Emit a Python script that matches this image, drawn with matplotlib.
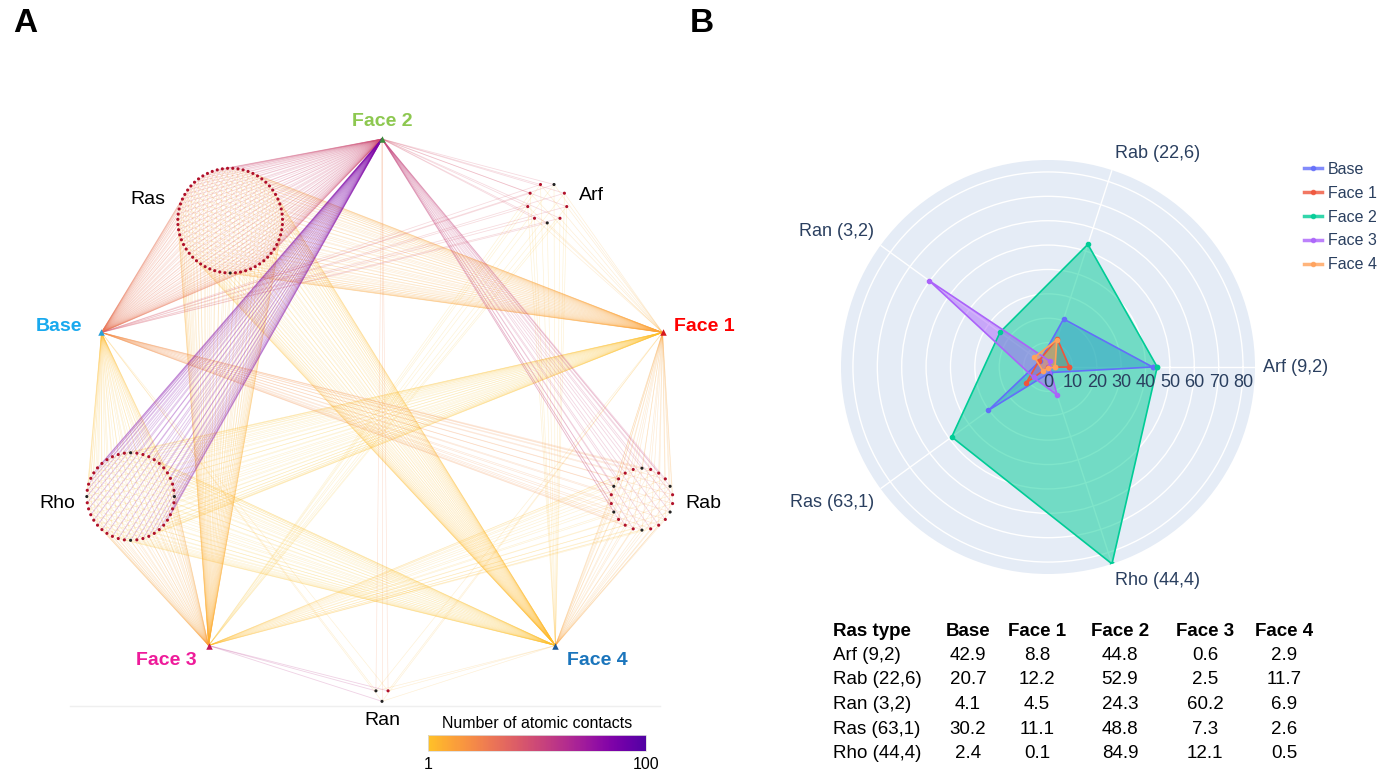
import numpy as np
import matplotlib
matplotlib.use("Agg")
import matplotlib.pyplot as plt
from matplotlib.collections import LineCollection
from matplotlib.colors import LinearSegmentedColormap, Normalize
from matplotlib.cm import ScalarMappable
from matplotlib.lines import Line2D

plt.rcParams['font.family'] = ['Liberation Sans', 'DejaVu Sans']

# data
families = ["Arf", "Rab", "Ran", "Ras", "Rho"]
members = [9, 22, 3, 63, 44]
special = [2, 6, 2, 1, 4]
faces = ["Base", "Face 1", "Face 2", "Face 3", "Face 4"]

base = [42.9, 20.7, 4.1, 30.2, 2.4]
face1 = [8.8, 12.2, 4.5, 11.1, 0.1]
face2 = [44.8, 52.9, 24.3, 48.8, 84.9]
face3 = [0.6, 2.5, 60.2, 7.3, 12.1]
face4 = [2.9, 11.7, 6.9, 2.6, 0.5]
series = [base, face1, face2, face3, face4]

categories = [f"{f} ({n},{k})" for f, n, k in zip(families, members, special)]

# styles
face_text_col = ['#19A9EE', '#FF0000', '#8DC850', '#EE1B9A', '#1B75BC']
face_mark_col = ['#2A9FD8', '#D7191C', '#3C8C3C', '#C2185B', '#1F5A96']
trace_col = ['#636EFA', '#EF553B', '#00CC96', '#AB63FA', '#FFA15A']
ink = '#2a3f5f'

W, H = 1390, 773
fig = plt.figure(figsize=(W / 100, H / 100), dpi=100)

# ---------------- panel A: network ----------------
ax = fig.add_axes([0, 0, 760 / W, 1])
ax.set_xlim(0, 760)
ax.set_ylim(H, 0)
ax.axis('off')

cmap = LinearSegmentedColormap.from_list(
    'contacts', plt.cm.plasma_r(np.linspace(0.13, 0.86, 64)))
norm = Normalize(1, 100)

cx, cy, rx, ry = 382, 419, 295, 280
ring = ["Face 2", "Arf", "Face 1", "Rab", "Face 4",
        "Ran", "Face 3", "Rho", "Base", "Ras"]
ang = {name: np.deg2rad(90 - 36 * i) for i, name in enumerate(ring)}


def ring_xy(name, shrink=0.0):
    a = ang[name]
    return cx + rx * (1 - shrink) * np.cos(a), cy - ry * (1 - shrink) * np.sin(a)


face_xy = {f: ring_xy(f) for f in faces}

segs, vals = [], []
clusters = []
for fi, (fam, n, k) in enumerate(zip(families, members, special)):
    rc = 6.6 * np.sqrt(n) if n > 3 else 7
    ccx, ccy = ring_xy(fam, 0.7 * rc / rx)
    phi = -np.pi / 2 + 2 * np.pi * np.arange(n) / n
    pts = np.column_stack([ccx + rc * np.cos(phi), ccy - rc * np.sin(phi)])
    black = np.round(np.arange(k) * n / k).astype(int)
    clusters.append((fam, ccx, ccy, rc, pts, black))
    for face, s in zip(faces, series):
        v = s[fi]
        for p in pts:
            segs.append([p, face_xy[face]])
            vals.append(v)

order = np.argsort(vals)
segs = [segs[i] for i in order]
vals = np.array(vals)[order]
lc = LineCollection(segs, colors=cmap(norm(vals)),
                    linewidths=0.4 + vals / 100 * 0.35, alpha=0.22, zorder=1)
ax.add_collection(lc)

ax.plot([70, 660], [706, 706], color='#efefef', lw=1, zorder=0)

for fam, ccx, ccy, rc, pts, black in clusters:
    cols = np.array(['#B0102A'] * len(pts), dtype=object)
    cols[black] = '#222222'
    ax.scatter(pts[:, 0], pts[:, 1], s=5, c=list(cols), lw=0, zorder=3)
    a = ang[fam]
    c = np.cos(a)
    if c > 0.3:
        ax.text(ccx + rc + 12, ccy - 0.5 * rc * np.sin(a), fam, fontsize=14,
                ha='left', va='center')
    elif c < -0.3:
        ax.text(ccx - rc - 12, ccy - 0.5 * rc * np.sin(a), fam, fontsize=14,
                ha='right', va='center')
    else:
        ax.text(ccx, ccy + rc + 19, fam, fontsize=14, ha='center', va='center')

for face, tc, mc in zip(faces, face_text_col, face_mark_col):
    x, y = face_xy[face]
    a = ang[face]
    ax.scatter([x], [y], marker='^', s=22, color=mc, lw=0, zorder=4)
    dx = 0 if abs(np.cos(a)) < 0.1 else 42 * np.sign(np.cos(a))
    dy = -18 * np.sin(a)
    ax.text(x + dx, y + dy, face, fontsize=14, fontweight='bold', color=tc,
            ha='center', va='center')

# colorbar
cax = fig.add_axes([428 / W, 1 - 751 / H, 218 / W, 16 / H])
cb = fig.colorbar(ScalarMappable(norm, cmap), cax=cax,
                  orientation='horizontal', ticks=[1, 100])
cb.outline.set_linewidth(0.6)
cb.outline.set_edgecolor('#dddddd')
cax.tick_params(length=0, labelsize=11.5, pad=4)
cax.set_title('Number of atomic contacts', fontsize=11.5, pad=5)

# ---------------- panel B: radar ----------------
pr = 207
pcx, pcy = 1048, 367
pax = fig.add_axes([(pcx - pr) / W, 1 - (pcy + pr) / H, 2 * pr / W, 2 * pr / H],
                   projection='polar')
theta = np.deg2rad(np.arange(len(families)) * 72)
rmax = 84.9
pax.set_facecolor('#E5ECF6')
pax.spines['polar'].set_visible(False)
pax.set_ylim(0, rmax)
pax.set_xticks(theta)
pax.set_xticklabels([])
pax.set_yticks(np.arange(10, 81, 10))
pax.set_yticklabels([])
pax.grid(color='white', lw=1)
pax.set_axisbelow(True)

for name, s, c in zip(faces, series, trace_col):
    t = np.append(theta, theta[0])
    r = np.append(s, s[0])
    pax.fill(t, r, color=c, alpha=0.5, lw=0, zorder=2)
    pax.plot(t, r, color=c, lw=1.2, marker='o', ms=3, zorder=3)

for r in range(0, 81, 10):
    pax.annotate(str(r), (0, r), xytext=(0, -11), textcoords='offset points',
                 ha='center', va='center', fontsize=13, color=ink,
                 annotation_clip=False, zorder=5)

for t, lab in zip(theta, categories):
    c, s = np.cos(t), np.sin(t)
    ha = 'left' if c > 0.1 else ('right' if c < -0.1 else 'center')
    va = 'bottom' if s > 0.1 else ('top' if s < -0.1 else 'center')
    pax.annotate(lab, (t, rmax), xytext=(6 * c, 6 * s), textcoords='offset points',
                 ha=ha, va=va, fontsize=13, color=ink, annotation_clip=False)

handles = [Line2D([0], [0], color=c, lw=2.5, marker='o', ms=3, alpha=0.8)
           for c in trace_col]
leg = fig.legend(handles, faces, loc='upper left',
                 bbox_to_anchor=(1304 / W, 1 - 162 / H), frameon=False,
                 fontsize=11.5, handlelength=1.1, handletextpad=0.4,
                 labelspacing=0.55, borderaxespad=0, borderpad=0)
for txt in leg.get_texts():
    txt.set_color(ink)

# table
col_x = [833, 968, 1037, 1120, 1205, 1284]
row_y0, row_dy = 631, 24.5
header = ["Ras type"] + faces
for j, h in enumerate(header):
    fig.text(col_x[j] / W, 1 - row_y0 / H, h, fontsize=13.5, fontweight='bold',
             ha='left' if j == 0 else 'center', va='center')
for i, lab in enumerate(categories):
    y = 1 - (row_y0 + row_dy * (i + 1)) / H
    fig.text(col_x[0] / W, y, lab, fontsize=13.5, ha='left', va='center')
    for j, s in enumerate(series):
        fig.text(col_x[j + 1] / W, y, f"{s[i]:.1f}", fontsize=13.5,
                 ha='center', va='center')

fig.text(25 / W, 1 - 23 / H, 'A', fontsize=24, fontweight='bold',
         ha='center', va='center')
fig.text(702 / W, 1 - 23 / H, 'B', fontsize=24, fontweight='bold',
         ha='center', va='center')

fig.savefig('out.png', dpi=100)
